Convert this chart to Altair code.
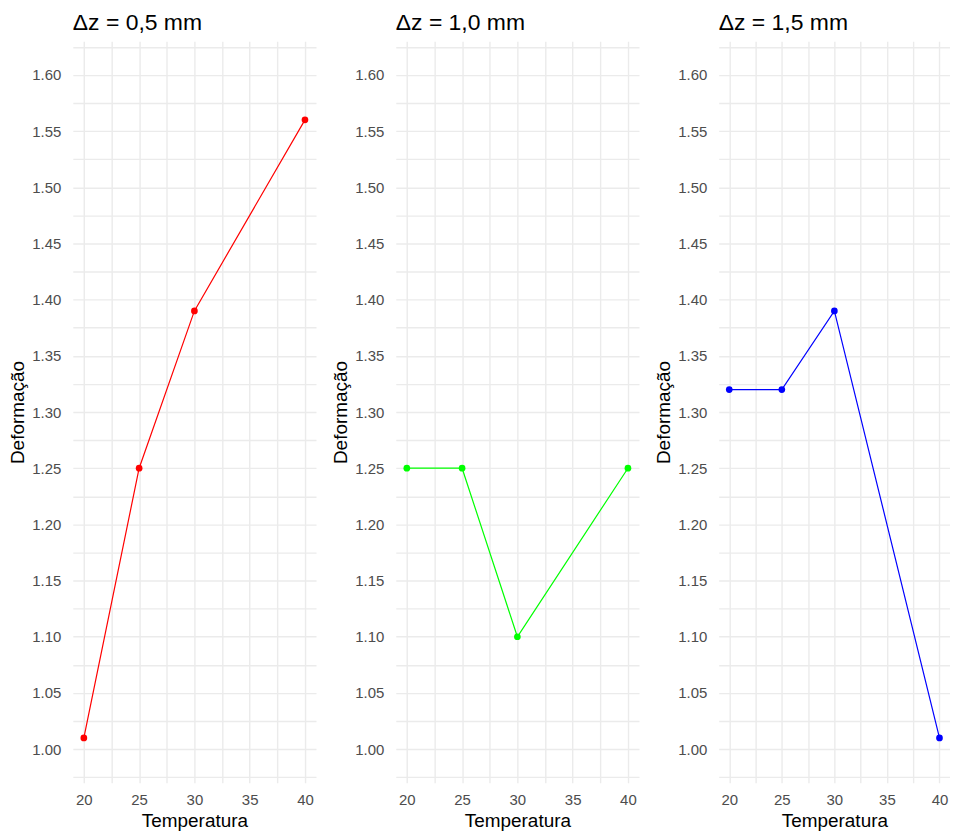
import altair as alt
import pandas as pd

# ---- data ----
temperatura = [20, 25, 30, 40]
deform_05 = [1.01, 1.25, 1.39, 1.56]
deform_10 = [1.25, 1.25, 1.10, 1.25]
deform_15 = [1.32, 1.32, 1.39, 1.01]

titles = ["\u0394z = 0,5 mm", "\u0394z = 1,0 mm", "\u0394z = 1,5 mm"]
colors = ["#FF0000", "#00FF00", "#0000FF"]

# axis break positions (major + minor gridlines)
x_breaks = [20, 22.5, 25, 27.5, 30, 32.5, 35, 37.5, 40]
y_breaks = [0.975, 1.0, 1.025, 1.05, 1.075, 1.1, 1.125, 1.15, 1.175, 1.2,
            1.225, 1.25, 1.275, 1.3, 1.325, 1.35, 1.375, 1.4, 1.425, 1.45,
            1.475, 1.5, 1.525, 1.55, 1.575, 1.6, 1.625]
x_domain = [19, 41]
y_domain = [0.97, 1.63]

FONT = "Liberation Sans"


def panel(values, color, title, width):
    df = pd.DataFrame({"Temperatura": temperatura, "Deformacao": values})
    return (
        alt.Chart(df)
        .mark_line(
            color=color,
            strokeWidth=1.2,
            point=alt.OverlayMarkDef(color=color, filled=True, size=45, opacity=1),
        )
        .encode(
            x=alt.X(
                "Temperatura:Q",
                scale=alt.Scale(domain=x_domain, nice=False, zero=False),
                axis=alt.Axis(
                    title="Temperatura",
                    values=x_breaks,
                    labelExpr="datum.value % 5 === 0 ? format(datum.value, 'd') : ''",
                    labelPadding=10,
                    titlePadding=4,
                ),
            ),
            y=alt.Y(
                "Deformacao:Q",
                scale=alt.Scale(domain=y_domain, nice=False, zero=False),
                axis=alt.Axis(
                    title="Deformação",
                    values=y_breaks,
                    labelExpr="round(datum.value * 1000) % 50 === 0 ? format(datum.value, '.2f') : ''",
                    labelPadding=12,
                    titlePadding=4,
                ),
            ),
        )
        .properties(
            width=width,
            height=744,
            title=alt.TitleParams(
                text=title,
                anchor="start",
                frame="group",
                fontSize=23,
                fontWeight="normal",
                font=FONT,
                color="#000000",
                offset=5,
            ),
        )
    )


chart = (
    alt.hconcat(
        panel(deform_05, colors[0], titles[0], 244),
        panel(deform_10, colors[1], titles[1], 244),
        panel(deform_15, colors[2], titles[2], 232),
        spacing=15,
    )
    .properties(padding={"left": 0, "top": 2, "right": 0, "bottom": 0})
    .configure_view(stroke=None)
    .configure_axis(
        domain=False,
        ticks=False,
        grid=True,
        gridColor="#EBEBEB",
        gridWidth=1.4,
        labelFont=FONT,
        labelFontSize=15,
        labelColor="#4D4D4D",
        titleFont=FONT,
        titleFontSize=19,
        titleFontWeight="normal",
        titleColor="#000000",
        labelOverlap=False,
    )
)

chart.save("out.html", embed_options={"renderer": "svg", "actions": False})
